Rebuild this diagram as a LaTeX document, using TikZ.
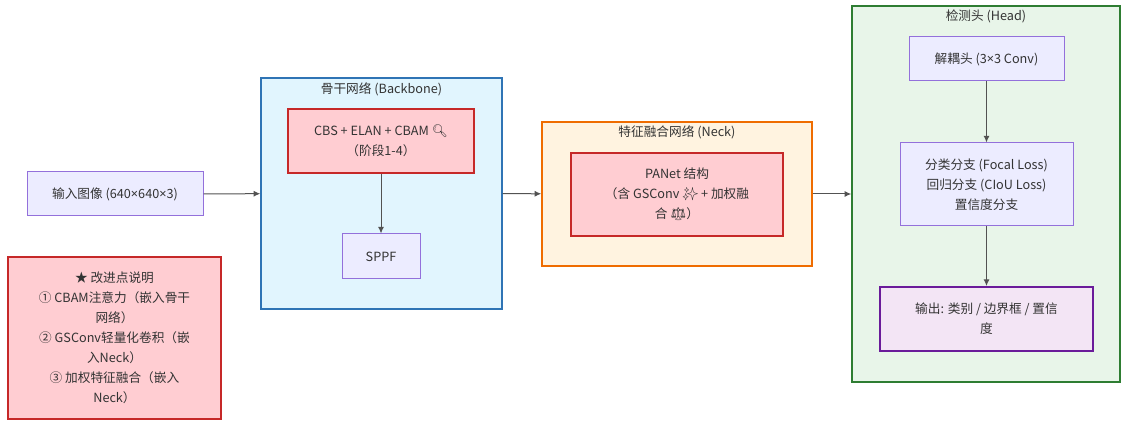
\documentclass[tikz,border=0pt]{standalone}
\usepackage{fontspec}
\setmainfont{Noto Sans CJK SC}
\newfontfamily\emoji{Noto Emoji}
\newfontfamily\latinfont{Noto Sans}
\newcommand{\by}{{\latinfont ×}}
\usetikzlibrary{arrows.meta}

\definecolor{txt}{HTML}{333333}
\definecolor{nodefill}{HTML}{ECECFF}
\definecolor{nodeline}{HTML}{9370DB}
\definecolor{bbfill}{HTML}{E1F5FE}
\definecolor{bbline}{HTML}{2F74B5}
\definecolor{neckfill}{HTML}{FFF3E0}
\definecolor{neckline}{HTML}{EF6C00}
\definecolor{headfill}{HTML}{E8F5E9}
\definecolor{headline}{HTML}{2E7D32}
\definecolor{redfill}{HTML}{FFCDD2}
\definecolor{redline}{HTML}{C62828}
\definecolor{outfill}{HTML}{F3E5F5}
\definecolor{outline}{HTML}{6A1B9A}

\tikzset{
    every node/.style={text=txt, font=\fontsize{9.5}{15}\selectfont, align=center, inner sep=0pt},
    box/.style={draw=nodeline, fill=nodefill, line width=0.75pt},
    redbox/.style={draw=redline, fill=redfill, line width=1.1pt},
    group/.style={line width=1.1pt},
    flow/.style={draw=txt!85, line width=0.75pt, -{Latex[length=5pt,width=4.5pt]}}
}

\begin{document}
\begin{tikzpicture}[x=0.75pt, y=-0.75pt]
    \useasboundingbox (0,0) rectangle (1121,423);
    
    \node[group, draw=bbline, fill=bbfill, minimum width=180.75pt, minimum height=173.25pt] (backbone) at (381.5,193.5) {};
    \node[group, draw=neckline, fill=neckfill, minimum width=202.5pt, minimum height=108pt] (neck) at (677,194) {};
    \node[group, draw=headline, fill=headfill, minimum width=201pt, minimum height=282pt] (head) at (986,194) {};
    
    \node (bbtitle) at (381.5,89) {骨干网络 (Backbone)};
    \node (necktitle) at (677,132) {特征融合网络 (Neck)};
    \node (headtitle) at (986,16) {检测头 (Head)};
    
    \node[box, minimum width=132pt, minimum height=33pt] (input) at (115,194) {输入图像 (640\by640\by3)};
    \node[redbox, minimum width=159.75pt, minimum height=121.5pt] (note) at (114.5,338) {★ 改进点说明\\① CBAM注意力（嵌入骨干\\网络）\\② GSConv轻量化卷积（嵌\\入Neck）\\③ 加权特征融合（嵌入\\Neck）};
    
    \node[redbox, minimum width=139.5pt, minimum height=48pt] (cbs) at (381,141) {CBS + ELAN + CBAM {\emoji 🔍}\\（阶段1-4）};
    \node[box, minimum width=58.5pt, minimum height=33.75pt] (sppf) at (381,256.5) {SPPF};
    
    \node[redbox, minimum width=159pt, minimum height=62.25pt] (panet) at (677,194.5) {PANet 结构\\（含 GSConv {\emoji ✨} + 加权融\\合 {\emoji ⚖}）};
    
    \node[box, minimum width=116.25pt, minimum height=33pt] (decoup) at (986.5,59) {解耦头 (3\by3 Conv)};
    \node[box, minimum width=129.75pt, minimum height=62.25pt] (branch) at (986.5,184.5) {分类分支 (Focal Loss)\\回归分支 (CIoU Loss)\\置信度分支};
    \node[draw=outline, fill=outfill, line width=1.5pt, minimum width=159.75pt, minimum height=48pt] (output) at (986.5,319) {输出: 类别 / 边界框 / 置信\\度};
    
    \draw[flow] (input) -- (backbone);
    \draw[flow] (backbone) -- (neck);
    \draw[flow] (neck) -- (head);
    \draw[flow] (cbs) -- (sppf);
    \draw[flow] (decoup) -- (branch);
    \draw[flow] (branch) -- (output);
\end{tikzpicture}
\end{document}
